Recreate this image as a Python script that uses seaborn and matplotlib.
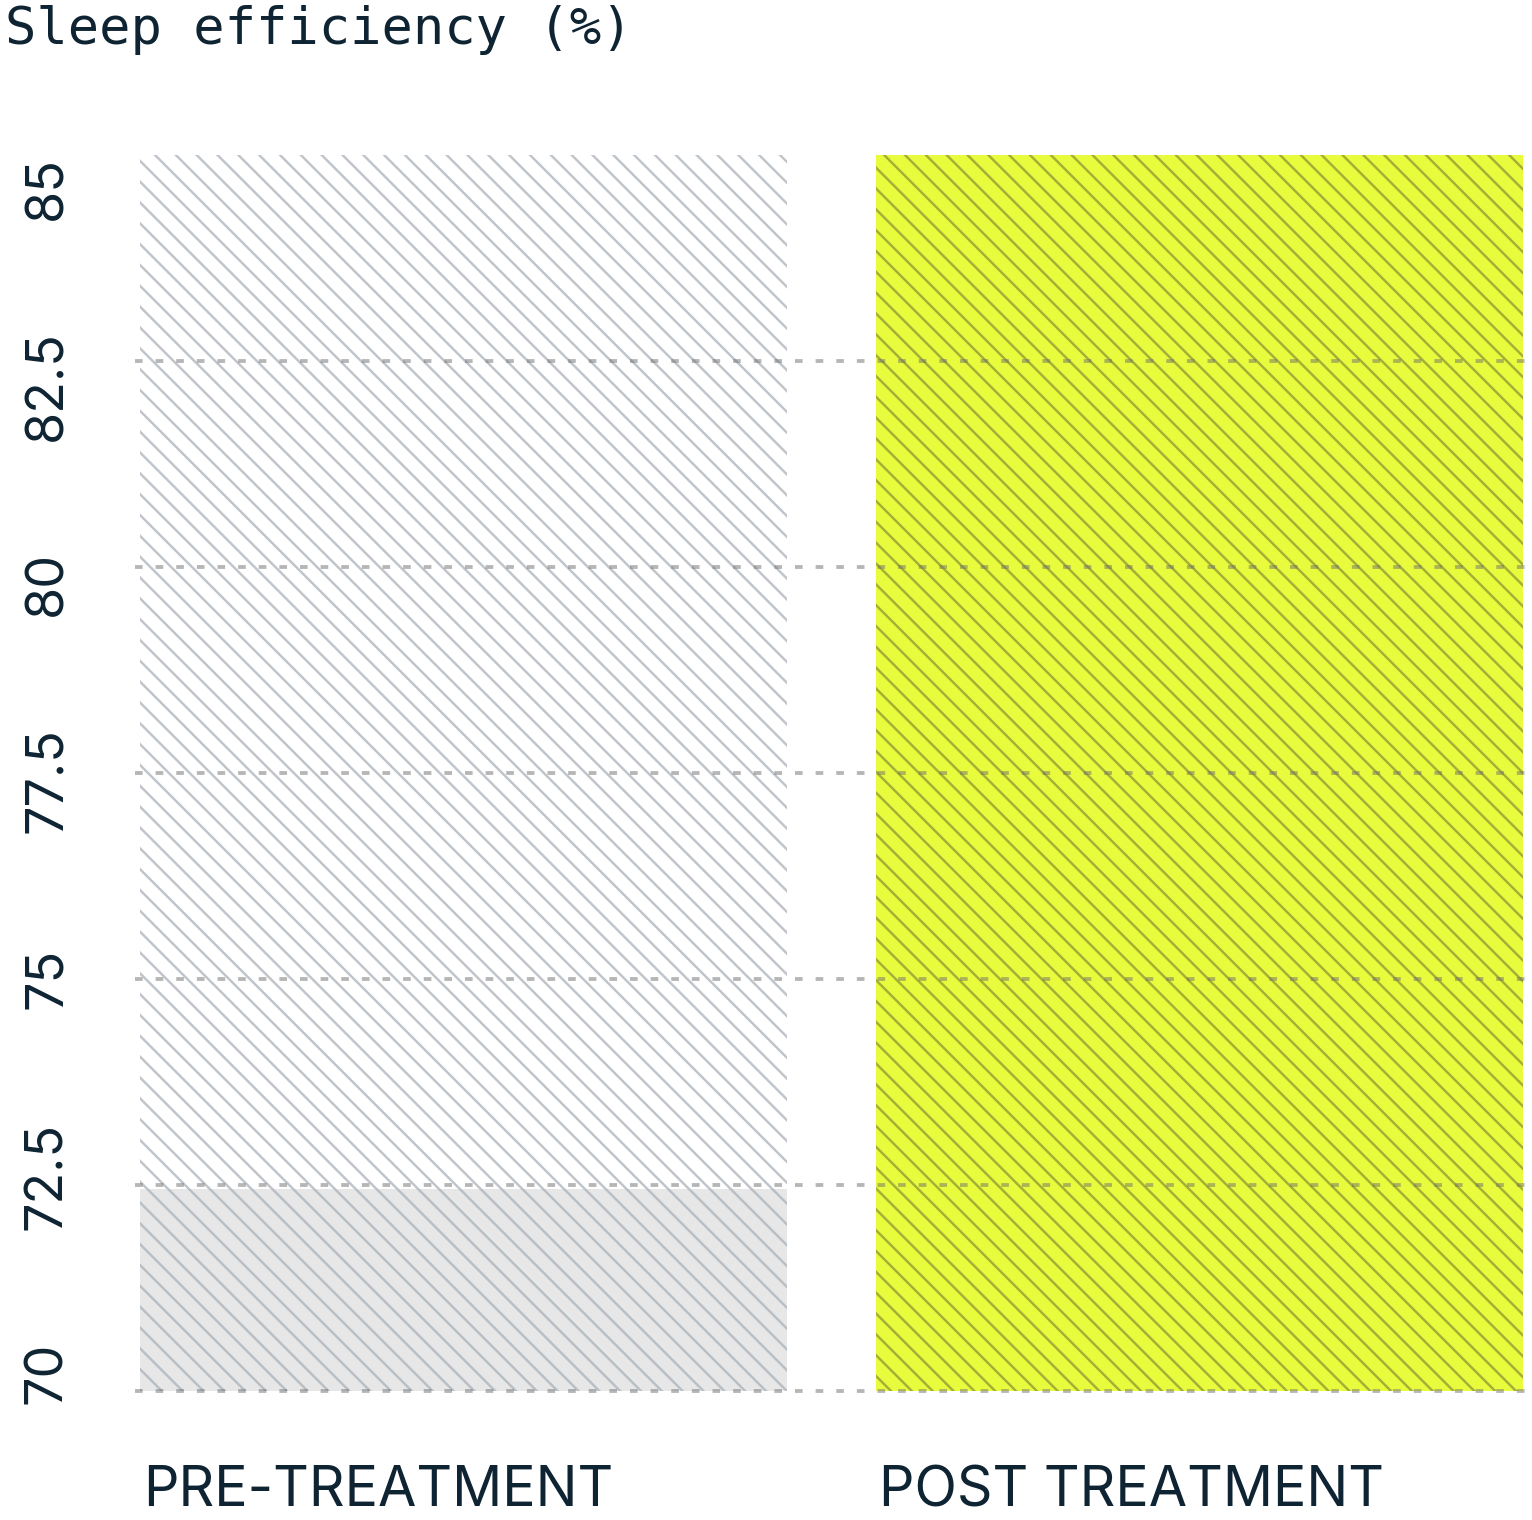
import pandas as pd
import seaborn as sns
import matplotlib.pyplot as plt

categories = ['PRE-TREATMENT', 'POST TREATMENT']
efficiency = [72.45, 85.0]
track = [85.0, 85.0]
y_ticks = [70, 72.5, 75, 77.5, 80, 82.5, 85]
y_tick_labels = ['70', '72.5', '75', '77.5', '80', '82.5', '85']

sns.set_style('white')
plt.rcParams['font.family'] = ['Inter', 'DejaVu Sans']
plt.rcParams['hatch.linewidth'] = 1.4
ink = '#0f2433'
W, H = 1532, 1520

df = pd.DataFrame({'group': categories, 'value': efficiency, 'track': track})

fig = plt.figure(figsize=(W / 125, H / 125), dpi=125)
ax = fig.add_axes([135 / W, 1 - 1391 / H, 1390 / W, (1391 - 155) / H])

# background track, then the actual values on top
sns.barplot(data=df, x='group', y='track', hue='group', palette=['white', 'white'],
            width=0.88, legend=False, ax=ax, linewidth=0, saturation=1)
sns.barplot(data=df, x='group', y='value', hue='group', palette=['#e7e7e7', '#e8fb3d'],
            width=0.88, legend=False, ax=ax, linewidth=0, saturation=1)

hatch_cols = ['#bfc5ca', '#bfc5ca', '#b8bfc5', '#a3b035']
for p, hc in zip(ax.patches, hatch_cols):
    p.set_hatch('\\\\')
    p.set_edgecolor(hc)
    p.set_linewidth(0)

for t in y_ticks[:-1]:
    ax.axhline(t, color='#6e6e6e', alpha=0.5, lw=2.2, ls=(0, (2, 3.4)), zorder=5,
               clip_on=False)

ax.set_ylim(70, 85)
ax.set_xlim(-0.447, 1.443)
ax.set_yticks([])
ax.set_xticks([])
ax.set_xlabel('')
ax.set_ylabel('')
sns.despine(ax=ax, left=True, bottom=True)

# the value labels sit on their own evenly spaced column
lab = fig.add_axes([135 / W, 1 - 1373 / H, 0.001, (1373 - 188) / H])
lab.set_ylim(70, 85)
lab.set_yticks(y_ticks)
lab.set_yticklabels(y_tick_labels, rotation=90, va='center', fontsize=30, color=ink)
lab.tick_params(axis='y', length=0, pad=36)
lab.set_xticks([])
sns.despine(ax=lab, left=True, bottom=True)
lab.patch.set_alpha(0)

for i, name in enumerate(categories):
    ax.text(i - 0.44 + 0.004, -0.081, name, transform=ax.get_xaxis_transform(),
            ha='left', va='center', fontsize=32, color=ink)

fig.text(0.003, 1 - 30 / H, 'Sleep efficiency (%)', family='DejaVu Sans Mono',
         ha='left', va='center', fontsize=30, color=ink)

fig.savefig('out.png', dpi=125)
